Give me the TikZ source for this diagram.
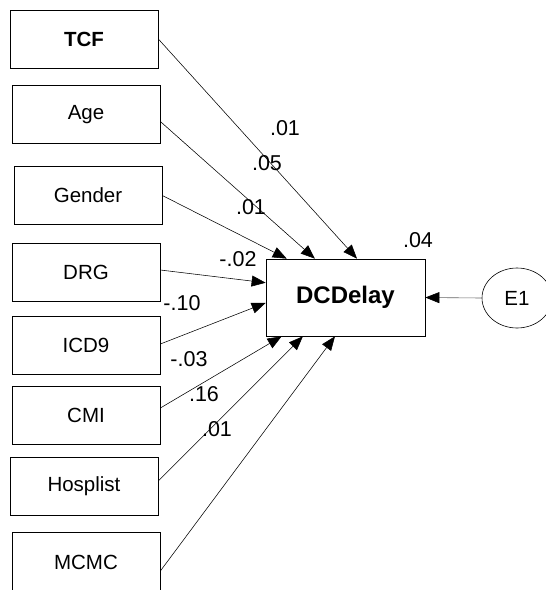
\documentclass[tikz,border=0pt]{standalone}
\usepackage{fontspec}
\setmainfont{Liberation Sans}
\usetikzlibrary{arrows.meta,shapes.geometric,calc}
\begin{document}
\begin{tikzpicture}[x=1pt,y=-1pt,
  varbox/.style={draw=black,line width=0.7pt,minimum width=148pt,minimum height=58pt,inner sep=0pt,font=\fontsize{20.5}{22}\selectfont},
  coef/.style={inner sep=0pt,font=\fontsize{21.5}{22}\selectfont},
  path/.style={draw=black,line width=0.55pt,-{Triangle[length=14pt,width=11pt]}}]
\useasboundingbox (0,0) rectangle (546,590);
\clip (0,0) rectangle (546,590);
\node[varbox] (tcf) at (84,39) {\textbf{TCF}};
\node[varbox] (age) at (86,114.5) {Age};
\node[varbox] (gender) at (88,195.5) {Gender};
\node[varbox] (drg) at (86,272.5) {DRG};
\node[varbox] (icd) at (86,345) {ICD9};
\node[varbox] (cmi) at (86,415.5) {CMI};
\node[varbox] (hosp) at (84,486) {Hosplist};
\node[varbox,minimum height=64pt] (mcmc) at (86,564) {};
\node[inner sep=0pt,font=\fontsize{20.5}{22}\selectfont] (mcmct) at (86,562) {MCMC};
\node[draw=black,line width=0.7pt,minimum width=159pt,minimum height=77pt,inner sep=0pt,font=\bfseries\fontsize{24}{25}\selectfont] (dc) at (345.5,297.5) {DCDelay};
\node[draw=black,line width=0.6pt,ellipse,minimum width=70pt,minimum height=60pt,inner sep=0pt,font=\fontsize{20.5}{22}\selectfont] (e1) at (517,298) {E1};

\draw[path] (tcf.east) -- ($(dc.north west)!0.572!(dc.north east)$);
\draw[path] ([yshift=-7pt]age.east) -- ($(dc.north west)!0.308!(dc.north east)$);
\draw[path] (gender.east) -- ($(dc.north west)!0.132!(dc.north east)$);
\draw[path] ([yshift=2.5pt]drg.east) -- ($(dc.north west)!0.31!(dc.south west)$);
\draw[path] ([yshift=1pt]icd.east) -- ($(dc.north west)!0.57!(dc.south west)$);
\draw[path] ([yshift=7.5pt]cmi.east) -- ($(dc.south west)!0.10!(dc.south east)$);
\draw[path] ([yshift=5pt]hosp.east) -- ($(dc.south west)!0.233!(dc.south east)$);
\draw[path] ([yshift=-7pt]mcmc.east) -- ($(dc.south west)!0.434!(dc.south east)$);
\draw[draw=black!60,line width=0.6pt,-{Triangle[length=14pt,width=11pt,color=black,fill=black]}] (e1.west) -- (dc.east);

\node[coef] (c1) at (285,128) {.01};
\node[coef] (c2) at (267,163) {.05};
\node[coef] (c3) at (251,207) {.01};
\node[coef] (c4) at (238,259) {-.02};
\node[coef] (c5) at (182,303) {-.10};
\node[coef] (c6) at (189,359) {-.03};
\node[coef] (c7) at (204,394) {.16};
\node[coef] (c8) at (217,429) {.01};
\node[coef] (c9) at (418,240) {.04};
\end{tikzpicture}
\end{document}
